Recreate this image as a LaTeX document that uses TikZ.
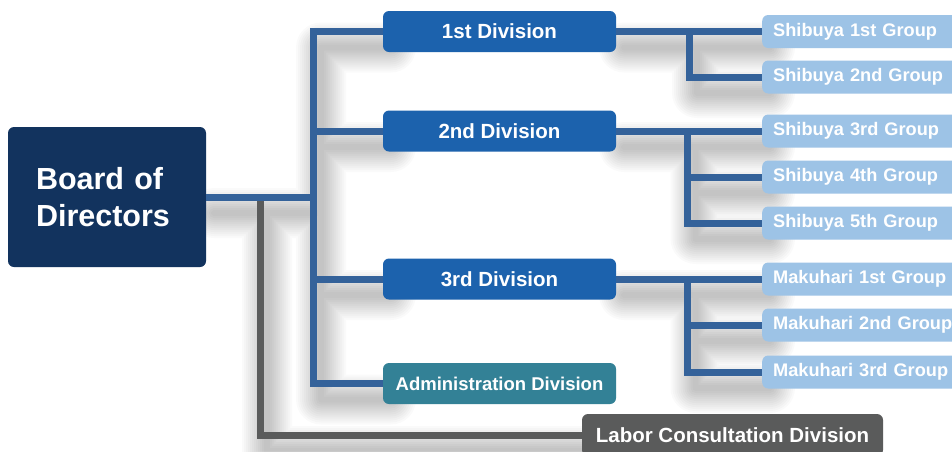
\documentclass[tikz,border=0pt]{standalone}
\usepackage{fontspec}
\setmainfont{Liberation Sans}
\definecolor{boardblue}{HTML}{12335E}
\definecolor{divblue}{HTML}{1C62AD}
\definecolor{connblue}{HTML}{34629A}
\definecolor{admteal}{HTML}{338196}
\definecolor{laborgray}{HTML}{5A5B5B}
\definecolor{grpblue}{HTML}{9DC3E6}
\begin{document}
\begin{tikzpicture}[x=1pt,y=-1pt,
  board/.style={rectangle, rounded corners=6pt, fill=boardblue, text=white,
    font=\bfseries\fontsize{30.5}{37}\selectfont, text width=142pt, align=left,
    inner xsep=28pt, inner ysep=0pt, minimum height=140pt},
  divbox/.style={rectangle, rounded corners=6pt, fill=divblue, text=white,
    font=\bfseries\fontsize{20.5}{24}\selectfont, minimum width=233pt,
    minimum height=41pt, inner sep=0pt},
  grp/.style={rectangle, rounded corners=6pt, fill=grpblue, text=white,
    font=\bfseries\fontsize{18.2}{22}\selectfont, text width=190pt, align=left,
    inner xsep=11pt, inner ysep=0pt, minimum height=33pt, anchor=west},
  conn/.style={draw=connblue, line width=7pt},
  gconn/.style={draw=laborgray, line width=7pt},
  shad/.style={draw=black, line join=round, line cap=round}
]
\useasboundingbox (0,0) rectangle (952,451);
\fill[white] (0,0) rectangle (952,451);

% soft shadows
\foreach \w in {6,10,...,50}{
  \begin{scope}[shift={(8,16)}, transparency group, opacity=0.018]
    \draw[shad, line width=\w pt]
      (206,197)--(313,197) (313,31.5)--(313,383.5)
      (313,31.5)--(383,31.5) (313,131)--(383,131) (313,279)--(383,279) (313,383.5)--(383,383.5)
      (259,197)--(259,435)--(582,435)
      (616,31.5)--(762,31.5) (689,31.5)--(689,77)--(762,77)
      (616,131)--(762,131) (687.5,131)--(687.5,223)--(762,223) (687.5,177)--(762,177)
      (616,279)--(762,279) (687.5,279)--(687.5,372)--(762,372) (687.5,325)--(762,325);
  \end{scope}
}

% nodes
\node[board] (board) at (107,197) {Board of\\Directors};
\node[divbox] (d1) at (499.5,31.5) {1st Division};
\node[divbox] (d2) at (499.5,131) {2nd Division};
\node[divbox] (d3) at (499.5,279) {3rd Division};
\node[divbox, fill=admteal, font=\bfseries\fontsize{18.5}{22}\selectfont] (adm) at (499.5,383.5) {Administration Division};
\node[divbox, fill=laborgray, minimum width=301pt, minimum height=42pt] (labor) at (732.5,435) {Labor Consultation Division};

\node[grp] (g1) at (762,31.5) {Shibuya 1st Group};
\node[grp] (g2) at (762,77) {Shibuya 2nd Group};
\node[grp] (g3) at (762,131) {Shibuya 3rd Group};
\node[grp] (g4) at (762,177) {Shibuya 4th Group};
\node[grp] (g5) at (762,223) {Shibuya 5th Group};
\node[grp] (g6) at (762,279) {Makuhari 1st Group};
\node[grp] (g7) at (762,325) {Makuhari 2nd Group};
\node[grp] (g8) at (762,372) {Makuhari 3rd Group};

% junction coordinates
\coordinate (tr) at (313,197);
\coordinate (gj) at (260,197);
\coordinate (s1) at (689,31.5);
\coordinate (s2) at (687.5,131);
\coordinate (s3) at (687.5,279);

% connectors
\draw[gconn] (gj) |- (labor.west);
\draw[conn] (board.east) -- (tr);
\draw[conn] (tr) |- (d1.west);
\draw[conn] (tr) |- (d2.west);
\draw[conn] (tr) |- (d3.west);
\draw[conn] (tr) |- (adm.west);
\draw[conn] (d1.east) -- (g1.west);
\draw[conn] (s1) |- (g2.west);
\draw[conn] (d2.east) -- (g3.west);
\draw[conn] (s2) |- (g4.west);
\draw[conn] (s2) |- (g5.west);
\draw[conn] (d3.east) -- (g6.west);
\draw[conn] (s3) |- (g7.west);
\draw[conn] (s3) |- (g8.west);
\end{tikzpicture}
\end{document}
